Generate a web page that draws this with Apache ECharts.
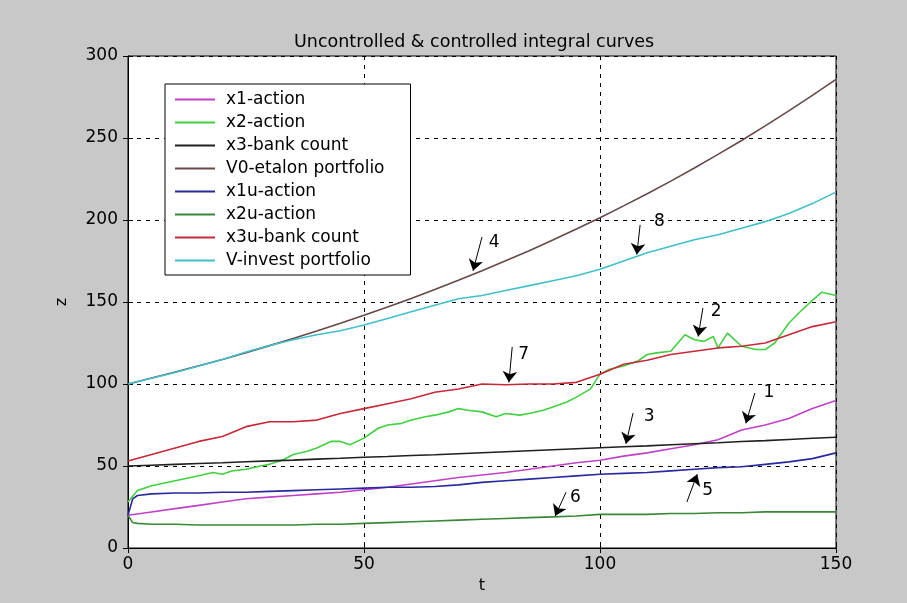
<!DOCTYPE html>
<html>
<head>
<meta charset="utf-8">
<script src="https://cdn.jsdelivr.net/npm/echarts@6/dist/echarts.min.js"></script>
<style>
  html, body { margin: 0; padding: 0; background: #c8c8c8; }
  #chart { width: 907px; height: 603px; }
</style>
</head>
<body>
<div id="chart"></div>
<script>
// time grids
const tStep = [0,5,10,15,20,25,30,35,40,45,50,55,60,65,70,75,80,85,90,95,100,105,110,115,120,125,130,135,140,145,150];
const tFine = [0,1,2,5,10,15,20,25,30,35,40,45,50,55,60,65,70,75,80,85,90,95,100,105,110,115,120,125,130,135,140,145,150];
const tX2 = [0,2,5,10,15,18,20,22,25,28,30,33,35,38,40,43,45,47,50,53,55,58,60,63,65,68,70,72,75,78,80,83,85,88,90,93,95,98,100,102,105,108,110,112,115,118,120,122,124,125,127,130,133,135,137,140,142,145,147,150];

// series values
const zX1 = [20,22,24,26,28,30,31,32,33,34,35.5,37,39,41,43,44.5,46,48,50,52,53.5,56,58,60.5,63,66,72,75,79,85,90];
const zX2 = [28,35,38,41,44,46,45,47,48,50,51,54,57,59,61,65,65,63,67,73,75,76,78,80,81,83,85,84,83,80,82,81,82,84,86,89,92,97,106,109,111,114,118,119,120,130,127,126,129,122,131,123,121,121,125,137,143,151,156,154];
const zX3 = [50,50.5,51,51.5,52,52.6,53.1,53.6,54.2,54.7,55.3,55.8,56.4,56.9,57.5,58.1,58.7,59.3,59.9,60.5,61.1,61.7,62.3,63,63.6,64.2,64.9,65.5,66.2,66.9,67.5];
const zV0 = [100,103.6,107.3,111.1,115,119.1,123.4,127.8,132.3,137,141.9,147,152.2,157.6,163.2,169.1,175.1,181.3,187.8,194.5,201.4,208.6,216,223.7,231.7,240,248.5,257.4,266.5,276,285.8];
const zX1u = [20,30,32,33,33.5,33.5,34,34,34.5,35,35.5,36,36.5,37,37,37.5,38.5,40,41,42,43,44,45,45.5,46,47,48,49,49.5,51,52.5,54.5,58];
const zX2u = [20,15.5,15,14.5,14.5,14,14,14,14,14,14.5,14.5,15,15.5,16,16.5,17,17.5,18,18.5,19,19.5,20.5,20.5,20.5,21,21,21.5,21.5,22,22,22,22];
const zX3u = [53,57,61,65,68,74,77,77,78,82,85,88,91,95,97,100,99.5,100,100,101,106,112,114.5,118,120,122,123,125,130,135,138];
const zV = [100,103.5,107,111,115,119.5,123.5,127,130,132.5,136,140,144,148,152,154,157,160,163,166,170,175,180,184,188,191,195,199,204,210,217];

// arrow annotations: label, tail [t, z], head [t, z], label position [t, z]
const arrowNames = ['1','2','3','4','5','6','7','8'];
const arrowTail = [[132.8,94.5],[121.8,146.3],[107,82.3],[75,189.6],[118.4,28],[92.8,34],[81.4,122.6],[108.5,197]];
const arrowHead = [[130.9,76],[120.8,129],[105.5,63.5],[73.1,169],[120.6,45],[90.5,19.5],[80.7,101],[107.8,179]];
const labelPos = [[135.8,95],[124.6,144],[110.4,80],[77.6,186],[122.8,35],[94.8,31],[83.8,118],[112.6,199]];

const tTicks = [0, 50, 100, 150];
const zTicks = [0, 50, 100, 150, 200, 250, 300];

const zip = (t, z) => t.map((v, i) => [v, z[i]]);

const FONT = 'DejaVu Sans';
const chart = echarts.init(document.getElementById('chart'));

function lineSeries(name, t, z, color) {
  return {
    name: name,
    type: 'line',
    data: zip(t, z),
    showSymbol: false,
    symbol: 'none',
    lineStyle: { color: color, width: 1.6 },
    itemStyle: { color: color },
    animation: false,
    z: 3
  };
}

const hiddenAxis = {
  axisLabel: { show: false },
  splitLine: { show: false },
  axisLine: { show: false },
  axisTick: { show: true, inside: true, length: 5, lineStyle: { color: '#000' } }
};

let option = {
  backgroundColor: '#c8c8c8',
  textStyle: { fontFamily: FONT },
  title: {
    text: 'Uncontrolled & controlled integral curves',
    left: 289,
    top: 28,
    textStyle: { fontFamily: FONT, fontSize: 17.5, fontWeight: 'normal', color: '#000' }
  },
  grid: {
    left: 128,
    right: 71,
    top: 56,
    bottom: 55,
    show: true,
    backgroundColor: '#fff',
    borderColor: '#000',
    borderWidth: 1
  },
  legend: {
    orient: 'vertical',
    left: 165,
    top: 84,
    padding: [7, 26, 6, 10],
    itemGap: 6,
    itemWidth: 40,
    itemHeight: 2,
    icon: 'rect',
    selectedMode: false,
    backgroundColor: '#fff',
    borderColor: '#000',
    borderWidth: 1,
    borderRadius: 0,
    textStyle: { fontFamily: FONT, fontSize: 17, color: '#000', padding: [0, 0, 0, 6] },
    data: ['x1-action','x2-action','x3-bank count','V0-etalon portfolio','x1u-action','x2u-action','x3u-bank count','V-invest portfolio']
  },
  xAxis: [
    {
      type: 'value',
      min: 0,
      max: 150,
      interval: 50,
      name: 't',
      nameLocation: 'middle',
      nameGap: 25,
      nameTextStyle: { fontFamily: FONT, fontSize: 16, color: '#000' },
      axisLine: { show: true, lineStyle: { color: '#000' } },
      axisTick: { show: true, inside: true, length: 5, lineStyle: { color: '#000' } },
      axisLabel: { color: '#000', fontSize: 17, margin: 8, fontFamily: FONT,
        formatter: v => tTicks.includes(v) ? String(v) : '' },
      splitLine: { show: true, lineStyle: { color: '#000', type: [4, 5], width: 1 } }
    },
    Object.assign({ type: 'value', position: 'top', min: 0, max: 150, interval: 50 }, hiddenAxis)
  ],
  yAxis: [
    {
      type: 'value',
      min: 0,
      max: 300,
      interval: 50,
      name: 'z',
      nameLocation: 'middle',
      nameGap: 58,
      nameTextStyle: { fontFamily: FONT, fontSize: 16, color: '#000' },
      axisLine: { show: true, lineStyle: { color: '#000' } },
      axisTick: { show: true, inside: true, length: 5, lineStyle: { color: '#000' } },
      axisLabel: { color: '#000', fontSize: 17, margin: 10, fontFamily: FONT,
        formatter: v => zTicks.includes(v) ? String(v) : '' },
      splitLine: { show: true, lineStyle: { color: '#000', type: [4, 5], width: 1 } }
    },
    Object.assign({ type: 'value', position: 'right', min: 0, max: 300, interval: 50 }, hiddenAxis)
  ],
  series: [
    lineSeries('x1-action', tStep, zX1, '#c040c8'),
    lineSeries('x2-action', tX2, zX2, '#40d040'),
    lineSeries('x3-bank count', tStep, zX3, '#202020'),
    lineSeries('V0-etalon portfolio', tStep, zV0, '#684848'),
    lineSeries('x1u-action', tFine, zX1u, '#2828a0'),
    lineSeries('x2u-action', tFine, zX2u, '#388838'),
    lineSeries('x3u-bank count', tStep, zX3u, '#c82838'),
    lineSeries('V-invest portfolio', tStep, zV, '#40c0c8'),
    {
      name: 'arrows',
      type: 'line',
      data: [],
      silent: true,
      animation: false,
      z: 5,
      markLine: {
        silent: true,
        animation: false,
        symbol: ['none', 'arrow'],
        symbolSize: 11,
        lineStyle: { color: '#000', width: 1, type: 'solid' },
        label: { show: false },
        data: arrowTail.map((p, i) => [{ coord: p }, { coord: arrowHead[i] }])
      }
    },
    {
      name: 'labels',
      type: 'scatter',
      symbolSize: 0,
      silent: true,
      animation: false,
      z: 5,
      itemStyle: { opacity: 0 },
      data: labelPos.map((p, i) => ({ value: p, name: arrowNames[i] })),
      label: {
        show: true,
        position: 'inside',
        formatter: '{b}',
        color: '#000',
        opacity: 1,
        textBorderWidth: 0,
        fontSize: 17,
        fontFamily: FONT
      }
    }
  ]
};
chart.setOption(option);
</script>
</body>
</html>
